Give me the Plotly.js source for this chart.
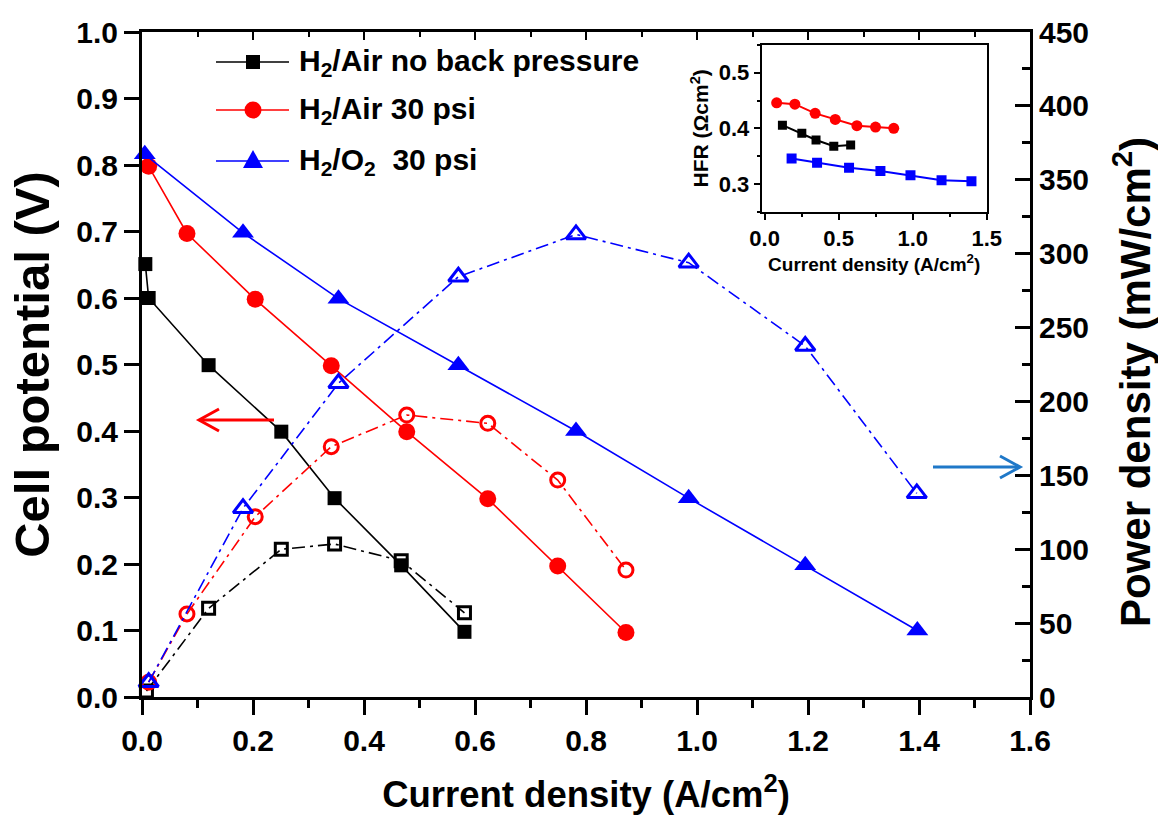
<!DOCTYPE html>
<html>
<head>
<meta charset="utf-8">
<script src="https://cdn.plot.ly/plotly-3.0.1.min.js"></script>
<style>html,body{margin:0;padding:0;background:#fff;}#chart{width:1158px;height:819px;}</style>
</head>
<body>
<div id="chart"></div>
<script>
// ---- Polarization data (left axis, V) ----
const airNoBP_I = [0.006, 0.012, 0.120, 0.251, 0.347, 0.467, 0.581];
const airNoBP_V = [0.651, 0.600, 0.499, 0.399, 0.299, 0.198, 0.098];
const air30_I   = [0.012, 0.081, 0.204, 0.341, 0.477, 0.623, 0.749, 0.872];
const air30_V   = [0.798, 0.697, 0.598, 0.498, 0.399, 0.298, 0.197, 0.097];
const o2_I      = [0.005, 0.182, 0.354, 0.570, 0.782, 0.985, 1.195, 1.397];
const o2_V      = [0.816, 0.698, 0.599, 0.499, 0.400, 0.299, 0.198, 0.100];

// ---- Power density data (right axis, mW/cm2) ----
const airNoBP_PI = [0.008, 0.120, 0.251, 0.347, 0.467, 0.581];
const airNoBP_P  = [4, 60, 100, 103.5, 92.2, 57];
const air30_PI   = [0.012, 0.081, 0.204, 0.341, 0.477, 0.623, 0.749, 0.872];
const air30_P    = [10, 56.2, 122, 169.4, 190.8, 185.2, 146.8, 85.9];
const o2_PI      = [0.012, 0.182, 0.354, 0.570, 0.782, 0.985, 1.195, 1.396];
const o2_P       = [10, 127.7, 212.3, 284.4, 313, 293.9, 237.5, 137.8];

// ---- Inset HFR data ----
const hfrAirNoBP_I = [0.120, 0.251, 0.347, 0.467, 0.581];
const hfrAirNoBP   = [0.4057, 0.391, 0.379, 0.368, 0.370];
const hfrAir30_I   = [0.081, 0.204, 0.341, 0.477, 0.623, 0.749, 0.872];
const hfrAir30     = [0.446, 0.4435, 0.427, 0.416, 0.4048, 0.4024, 0.400];
const hfrO2_I      = [0.182, 0.354, 0.570, 0.782, 0.985, 1.195, 1.397];
const hfrO2        = [0.3456, 0.338, 0.329, 0.3234, 0.3156, 0.3066, 0.3048];

const legendLabels = ['H<sub>2</sub>/Air no back pressure', 'H<sub>2</sub>/Air 30 psi', 'H<sub>2</sub>/O<sub>2</sub>\u00a0 30 psi'];
const rightTitle = 'Power density (mW/cm<sup>2</sup>)';

const FF = 'Liberation Sans, Arial, Helvetica, sans-serif';
const BLACK = '#000000', RED = '#ff0000', BLUE = '#0000ff', ARROWBLUE = '#1f78c8';
const DASHDOT = '13px,5px,3px,5px';

const traces = [
  {x: airNoBP_I, y: airNoBP_V, mode: 'lines+markers', line: {color: BLACK, width: 1.6},
   marker: {symbol: 'square', size: 14, color: BLACK}, cliponaxis: false},
  {x: air30_I, y: air30_V, mode: 'lines+markers', line: {color: RED, width: 1.6},
   marker: {symbol: 'circle', size: 17, color: RED}, cliponaxis: false},
  {x: o2_I, y: o2_V, mode: 'lines+markers', line: {color: BLUE, width: 1.6},
   marker: {symbol: 'triangle-up', size: 19, color: BLUE}, cliponaxis: false},
  {x: airNoBP_PI, y: airNoBP_P, yaxis: 'y2', mode: 'lines+markers', line: {color: BLACK, width: 1.6, dash: DASHDOT},
   marker: {symbol: 'square-open', size: 12, color: BLACK, line: {width: 3}}, cliponaxis: false},
  {x: air30_PI, y: air30_P, yaxis: 'y2', mode: 'lines+markers', line: {color: RED, width: 1.6, dash: DASHDOT},
   marker: {symbol: 'circle-open', size: 14, color: RED, line: {width: 3}}, cliponaxis: false},
  {x: o2_PI, y: o2_P, yaxis: 'y2', mode: 'lines+markers', line: {color: BLUE, width: 1.6, dash: DASHDOT},
   marker: {symbol: 'triangle-up-open', size: 17, color: BLUE, line: {width: 3}}, cliponaxis: false},
  {x: [0.8], y: [0.5], xaxis: 'x2', yaxis: 'y', mode: 'markers', marker: {opacity: 0, size: 1}, hoverinfo: 'skip'},
  {x: hfrAirNoBP_I, y: hfrAirNoBP, xaxis: 'x3', yaxis: 'y3', mode: 'lines+markers', line: {color: BLACK, width: 2},
   marker: {symbol: 'square', size: 9, color: BLACK}},
  {x: hfrAir30_I, y: hfrAir30, xaxis: 'x3', yaxis: 'y3', mode: 'lines+markers', line: {color: RED, width: 2},
   marker: {symbol: 'circle', size: 11, color: RED}},
  {x: hfrO2_I, y: hfrO2, xaxis: 'x3', yaxis: 'y3', mode: 'lines+markers', line: {color: BLUE, width: 2},
   marker: {symbol: 'square', size: 10, color: BLUE}}
];

const L = 142, R = 1030, T = 32, B = 697;
const PX = x => (x - L) / (R - L);
const PY = y => (B - y) / (B - T);

const shapes = [];
const annotations = [];

// custom legend
const legendRows = [62, 110, 161];
const legendColors = [BLACK, RED, BLUE];
legendRows.forEach((ry, i) => {
  shapes.push({type: 'line', xref: 'paper', yref: 'paper', x0: PX(216), x1: PX(289), y0: PY(ry), y1: PY(ry),
    line: {color: legendColors[i], width: 1.6}});
  annotations.push({xref: 'paper', yref: 'paper', x: PX(297), y: PY(ry), xanchor: 'left', yanchor: 'middle',
    text: legendLabels[i], showarrow: false, font: {family: FF, size: 30, weight: 'bold', color: '#000'}});
});
// legend markers
shapes.push({type: 'rect', xref: 'paper', yref: 'paper', x0: PX(246), x1: PX(260), y0: PY(55), y1: PY(69),
  fillcolor: BLACK, line: {width: 0}});
shapes.push({type: 'circle', xref: 'paper', yref: 'paper', x0: PX(244.5), x1: PX(261.5), y0: PY(101.5), y1: PY(118.5),
  fillcolor: RED, line: {width: 0}});
shapes.push({type: 'path', xref: 'paper', yref: 'paper',
  path: `M ${PX(253)} ${PY(150)} L ${PX(263)} ${PY(168)} L ${PX(243)} ${PY(168)} Z`,
  fillcolor: BLUE, line: {width: 0}});

// right axis title
annotations.push({xref: 'paper', yref: 'paper', x: PX(1132), y: PY(382), xanchor: 'center', yanchor: 'middle',
  textangle: -90, text: rightTitle, showarrow: false, borderpad: 0,
  font: {family: FF, size: 42, weight: 'bold', color: '#000'}});

// red arrow (pointing to left axis)
shapes.push({type: 'line', xref: 'paper', yref: 'paper', x0: PX(200), x1: PX(274), y0: PY(420), y1: PY(420),
  line: {color: RED, width: 3}});
shapes.push({type: 'path', xref: 'paper', yref: 'paper',
  path: `M ${PX(219)} ${PY(409)} L ${PX(199)} ${PY(420)} L ${PX(219)} ${PY(431)}`,
  line: {color: RED, width: 3}});
// blue arrow (pointing to right axis)
shapes.push({type: 'line', xref: 'paper', yref: 'paper', x0: PX(933), x1: PX(1019), y0: PY(467), y1: PY(467),
  line: {color: ARROWBLUE, width: 3}});
shapes.push({type: 'path', xref: 'paper', yref: 'paper',
  path: `M ${PX(1000)} ${PY(456)} L ${PX(1020)} ${PY(467)} L ${PX(1000)} ${PY(478)}`,
  line: {color: ARROWBLUE, width: 3}});

const tickFont = {family: FF, size: 30, weight: 'bold', color: '#000'};
const insetTickFont = {family: FF, size: 22, weight: 'bold', color: '#000'};

const layout = {
  width: 1158, height: 819,
  margin: {l: L, r: 1158 - R, t: T, b: 819 - B},
  paper_bgcolor: '#fff', plot_bgcolor: 'rgba(0,0,0,0)',
  showlegend: false,
  xaxis: {
    range: [0, 1.6], dtick: 0.2, tick0: 0, tickformat: '.1f',
    showline: true, linewidth: 3, linecolor: '#000', mirror: true,
    ticks: 'outside', ticklen: 15, tickwidth: 3, tickcolor: '#000',
    minor: {dtick: 0.1, ticks: 'outside', ticklen: 8, tickwidth: 3, tickcolor: '#000'},
    showgrid: false, zeroline: false, tickfont: tickFont,
    title: {text: 'Current density (A/cm<sup>2</sup>)', font: {family: FF, size: 36.5, weight: 'bold', color: '#000'}, standoff: 26}
  },
  xaxis2: {
    overlaying: 'x', side: 'top', range: [0, 1.6], dtick: 0.2, showticklabels: false,
    ticks: 'inside', ticklen: 8, tickwidth: 2, tickcolor: '#000', showline: false,
    minor: {dtick: 0.1, ticks: 'inside', ticklen: 5, tickwidth: 2, tickcolor: '#000'},
    showgrid: false, zeroline: false
  },
  yaxis: {
    range: [0, 1.0], dtick: 0.1, tick0: 0, tickformat: '.1f',
    showline: true, linewidth: 3, linecolor: '#000',
    ticks: 'outside', ticklen: 15, tickwidth: 3, tickcolor: '#000',
    showgrid: false, zeroline: false, tickfont: tickFont,
    title: {text: 'Cell potential (V)', font: {family: FF, size: 49, weight: 'bold', color: '#000'}, standoff: 12}
  },
  yaxis2: {
    overlaying: 'y', side: 'right', anchor: 'x', range: [0, 450], dtick: 50, tick0: 0,
    showline: true, linewidth: 3, linecolor: '#000',
    ticks: 'inside', ticklen: 15, tickwidth: 3, tickcolor: '#000',
    minor: {dtick: 25, ticks: 'inside', ticklen: 8, tickwidth: 3, tickcolor: '#000'},
    showgrid: false, zeroline: false, tickfont: tickFont
  },
  xaxis3: {
    domain: [PX(761.7), PX(986.7)], anchor: 'y3', range: [-0.02, 1.5], dtick: 0.5, tick0: 0, tickformat: '.1f',
    showline: true, linewidth: 2, linecolor: '#000', mirror: true,
    ticks: 'outside', ticklen: 6, tickwidth: 2, tickcolor: '#000',
    minor: {dtick: 0.25, ticks: 'outside', ticklen: 3, tickwidth: 2, tickcolor: '#000'},
    showgrid: false, zeroline: false, tickfont: insetTickFont,
    title: {text: 'Current density (A/cm<sup>2</sup>)', font: {family: FF, size: 19, weight: 'bold', color: '#000'}, standoff: 2}
  },
  yaxis3: {
    domain: [PY(211.7), PY(45)], anchor: 'x3', range: [0.25, 0.55], dtick: 0.1, tick0: 0.3, tickformat: '.1f',
    showline: true, linewidth: 2, linecolor: '#000', mirror: true,
    ticks: 'outside', ticklen: 6, tickwidth: 2, tickcolor: '#000',
    minor: {dtick: 0.05, ticks: 'outside', ticklen: 3, tickwidth: 2, tickcolor: '#000'},
    showgrid: false, zeroline: false, tickfont: insetTickFont,
    title: {text: 'HFR (\u03A9cm<sup>2</sup>)', font: {family: FF, size: 21, weight: 'bold', color: '#000'}, standoff: 4}
  },
  shapes: shapes,
  annotations: annotations
};

Plotly.newPlot('chart', traces, layout, {displayModeBar: false, staticPlot: true});
</script>
</body>
</html>
